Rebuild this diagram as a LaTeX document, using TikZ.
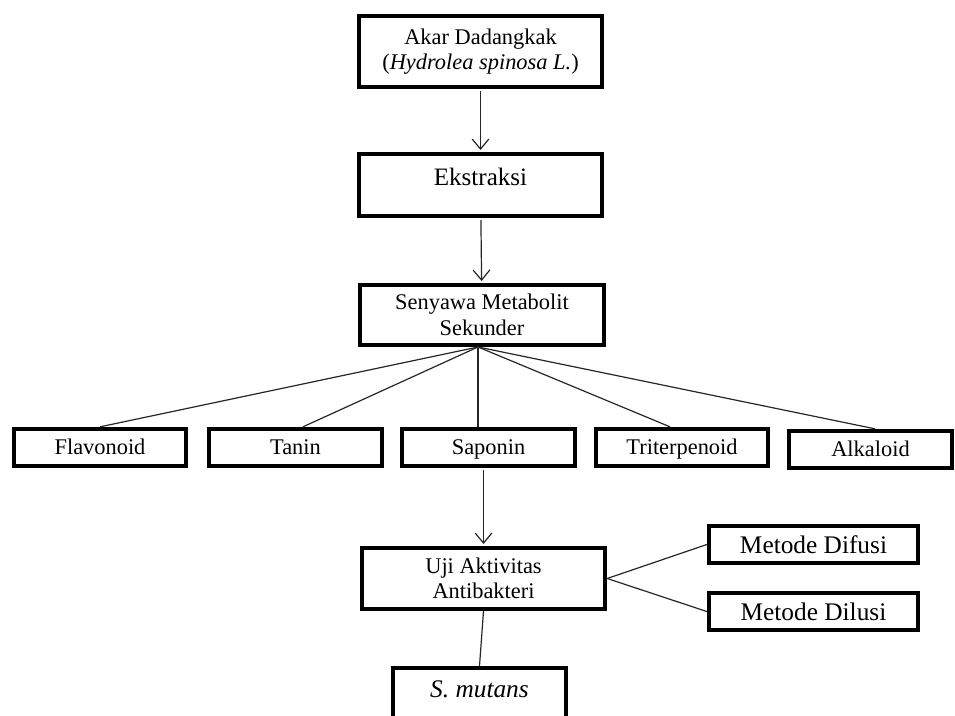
\documentclass[tikz,border=0pt]{standalone}
\usepackage{fontspec}
\setmainfont{Liberation Serif}
\usetikzlibrary{arrows.meta}

\begin{document}
\begin{tikzpicture}[x=0.75pt, y=-0.75pt, >={Straight Barb[length=7.5pt,width=12.5pt]},
    main/.style = {draw, line width=3pt, minimum width=182.5pt, align=center,
                   font=\fontsize{16.8}{19}\selectfont},
    sub/.style = {draw, line width=3pt, minimum width=129.5pt, minimum height=28pt,
                  text height=11.5pt, text depth=0.5pt,
                  font=\fontsize{16.8}{19}\selectfont},
    side/.style = {draw, line width=3pt, minimum width=157pt, minimum height=28pt,
                   text height=13pt, text depth=0pt,
                   font=\fontsize{19}{22}\selectfont},
    edge/.style = {line width=0.9pt, black!85}]
    \useasboundingbox (0,0) rectangle (955,716);
    % Nodes

    \node[main, minimum height=53.25pt] (1) at (480.5, 51.5) {Akar Dadangkak\\(\textit{Hydrolea spinosa L.})};
    \node[main, minimum height=46.5pt, text depth=12pt, font=\fontsize{18.8}{22}\selectfont] (2) at (480.5, 185) {Ekstraksi};
    \node[main, minimum height=45pt] (3) at (482, 315) {Senyawa Metabolit\\Sekunder};

    \node[sub] (4) at (100, 447.5) {Flavonoid};
    \node[sub] (5) at (295.5, 447.5) {Tanin};
    \node[sub] (6) at (488.5, 447.5) {Saponin};
    \node[sub] (7) at (682, 447.5) {Triterpenoid};
    \node[sub, minimum width=122.5pt] (8) at (870.5, 449.5) {Alkaloid};

    \node[main, minimum height=45.75pt] (9) at (483.5, 578.5) {Uji Aktivitas\\Antibakteri};
    \node[side] (10) at (813.5, 544.5) {Metode Difusi};
    \node[side] (11) at (813.5, 611.5) {Metode Dilusi};
    \node[sub, minimum height=46.5pt, text depth=13.5pt, font=\fontsize{19}{22}\selectfont] (12) at (479.5, 699) {\textit{S. mutans}};

    \coordinate (0) at ([xshift=-3pt]3.south);
    % Edges
    \draw[edge, ->, shorten >=1.5pt, shorten <=1.5pt] (1) -- (2);
    \draw[edge, ->, shorten >=1.5pt, shorten <=1.5pt] (2) -- (3);

    \draw[edge] (0) -- (4.north);
    \draw[edge] (0) -- ([xshift=5.6pt]5.north);
    \draw[edge] (0) -- (0 |- 6.north);
    \draw[edge] (0) -- ([xshift=-9pt]7.north);
    \draw[edge] (0) -- ([xshift=3.4pt]8.north);

    \draw[edge, ->, shorten >=1.5pt, shorten <=1.5pt] (9.north |- 6.south) -- (9.north);
    \draw[edge] (9.east) -- (10.west);
    \draw[edge] (9.east) -- (11.west);
    \draw[edge] (9.south) -- (12.north);

\end{tikzpicture}
\end{document}
